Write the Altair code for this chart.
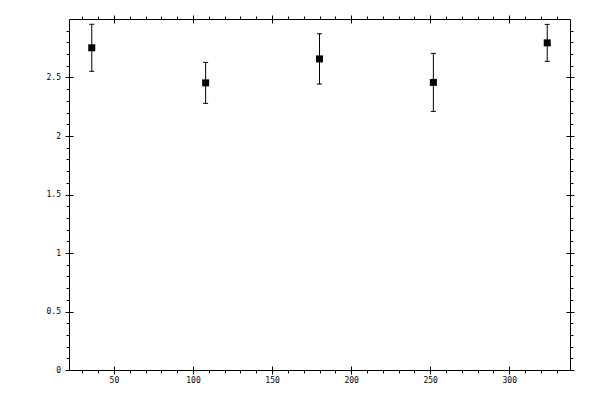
import altair as alt
import pandas as pd

angles = [36, 108, 180, 252, 324]
means = [2.754, 2.454, 2.659, 2.458, 2.796]
errors = [0.201, 0.175, 0.215, 0.248, 0.158]

x_major = [50, 100, 150, 200, 250, 300]
x_minor = [30, 40, 50, 60, 70, 80, 90, 100, 110, 120, 130, 140, 150, 160, 170,
           180, 190, 200, 210, 220, 230, 240, 250, 260, 270, 280, 290, 300,
           310, 320, 330]
y_major = [0, 0.5, 1, 1.5, 2, 2.5]
y_minor = [0, 0.1, 0.2, 0.3, 0.4, 0.5, 0.6, 0.7, 0.8, 0.9, 1.0, 1.1, 1.2, 1.3,
           1.4, 1.5, 1.6, 1.7, 1.8, 1.9, 2.0, 2.1, 2.2, 2.3, 2.4, 2.5, 2.6,
           2.7, 2.8, 2.9]

df = pd.DataFrame({"angle": angles, "mean": means, "err": errors})
df["lo"] = df["mean"] - df["err"]
df["hi"] = df["mean"] + df["err"]

FONT = "DejaVu Sans Mono"
xs = alt.Scale(domain=[21.6, 338.4], nice=False, zero=False)
ys = alt.Scale(domain=[0, 3], nice=False, zero=False)


def major(orient, values, labels, pad=3):
    kw = dict(orient=orient, values=values, tickSize=8, offset=-4, domain=False,
              grid=False, title=None, tickColor="black", tickWidth=1,
              labels=labels)
    if labels:
        kw.update(labelFont=FONT, labelFontSize=8, labelColor="black",
                  labelPadding=pad, format=".1~f", labelFlush=False)
    return alt.Axis(**kw)


def minor(orient, values):
    return alt.Axis(orient=orient, values=values, tickSize=3, offset=0,
                    domain=True, domainColor="black", domainWidth=1,
                    grid=False, title=None, tickColor="black", tickWidth=1,
                    labels=False)


base = alt.Chart(df)

bars = base.mark_rule(color="black", strokeWidth=1).encode(
    x=alt.X("angle:Q", scale=xs, axis=major("bottom", x_major, True, 2)),
    y=alt.Y("lo:Q", scale=ys, axis=major("left", y_major, True, 4.5)),
    y2="hi:Q",
)

cap_top = base.mark_tick(orient="horizontal", size=5, thickness=1,
                         color="black", opacity=1).encode(
    x=alt.X("angle:Q", scale=xs, axis=major("top", x_major, False)),
    y=alt.Y("hi:Q", scale=ys, axis=major("right", y_major, False)),
)

cap_bot = base.mark_tick(orient="horizontal", size=5, thickness=1,
                         color="black", opacity=1).encode(
    x=alt.X("angle:Q", scale=xs, axis=minor("top", x_minor)),
    y=alt.Y("lo:Q", scale=ys, axis=minor("right", y_minor)),
)

pts = base.mark_square(size=49, color="black", opacity=1, filled=True).encode(
    x=alt.X("angle:Q", scale=xs, axis=minor("bottom", x_minor)),
    y=alt.Y("mean:Q", scale=ys, axis=minor("left", y_minor)),
)

chart = (
    alt.layer(bars, cap_top, cap_bot, pts)
    .resolve_axis(x="independent", y="independent")
    .properties(
        width=501,
        height=351,
        autosize="none",
        padding={"left": 61, "top": 11, "right": 22, "bottom": 22},
        background="white",
    )
    .configure_view(stroke=None)
)

chart.save("out.html", embed_options={"renderer": "svg", "actions": False})
